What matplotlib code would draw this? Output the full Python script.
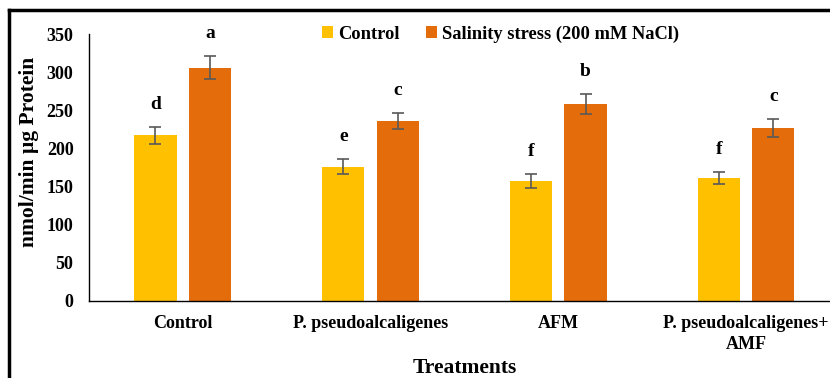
import numpy as np
from matplotlib import pyplot as plt
from matplotlib.lines import Line2D

plt.rcParams['font.family'] = ['Liberation Serif', 'DejaVu Serif']
plt.rcParams['font.weight'] = 'bold'

categories = ['Control', 'P. pseudoalcaligenes', 'AFM', 'P. pseudoalcaligenes+\nAMF']
control = [217, 176, 157, 161]
control_err = [11, 10, 9, 8]
salinity = [306, 236, 258, 227]
salinity_err = [15, 11, 13, 12]
control_letters = ['d', 'e', 'f', 'f']
salinity_letters = ['a', 'c', 'b', 'c']

fig = plt.figure(figsize=(8.3, 3.78), dpi=100)
ax = fig.add_axes([0.107, 0.204, 0.905, 0.706])

x = np.arange(len(categories))
w = 0.225
off = 0.145
ekw = dict(ecolor='#595959', elinewidth=1.2, capsize=4, capthick=1.2)
ax.bar(x - off, control, w, yerr=control_err, color='#FFC000',
       label='Control', error_kw=ekw)
ax.bar(x + off, salinity, w, yerr=salinity_err, color='#E46C0A',
       label='Salinity stress (200 mM NaCl)', error_kw=ekw)

for xs, vals, errs, letters in [(x - off, control, control_err, control_letters),
                                (x + off, salinity, salinity_err, salinity_letters)]:
    for xi, v, e, t in zip(xs, vals, errs, letters):
        ax.annotate(t, (xi, v + e), xytext=(0, 10), textcoords='offset points',
                    ha='center', va='bottom', fontsize=14, fontweight='bold')

ax.set_xlim(-0.5, len(categories) - 0.5)
ax.set_ylim(0, 350)
ax.set_yticks(range(0, 351, 50))
ax.set_xticks(x)
ax.set_xticklabels(categories, fontsize=13, fontweight='bold', linespacing=1.3)
ax.tick_params(axis='both', length=0, labelsize=13)
ax.tick_params(axis='x', pad=10)
ax.tick_params(axis='y', pad=11)
for lab in ax.get_yticklabels():
    lab.set_fontweight('bold')
ax.spines['top'].set_visible(False)
ax.spines['right'].set_visible(False)
ax.spines['left'].set_linewidth(1.0)
ax.spines['bottom'].set_linewidth(1.0)
ax.set_ylabel('nmol/min µg Protein', fontsize=15.5, fontweight='bold')
ax.yaxis.set_label_coords(-0.066, 0.56)
ax.set_xlabel('Treatments', fontsize=15.5, fontweight='bold', labelpad=4)

ax.legend(loc='upper center', bbox_to_anchor=(0.548, 1.094), ncol=2, frameon=False,
          handlelength=0.6, handleheight=0.6, handletextpad=0.3,
          columnspacing=1.4, prop={'weight': 'bold', 'size': 13.3})

# outer frame (top and left visible in the reference)
fig.add_artist(Line2D([0.011, 1.0], [0.973, 0.973], color='black', lw=2.5,
                      transform=fig.transFigure))
fig.add_artist(Line2D([0.011, 0.011], [0.0, 0.973], color='black', lw=2.5,
                      transform=fig.transFigure))

fig.savefig('out.png', dpi=100)
